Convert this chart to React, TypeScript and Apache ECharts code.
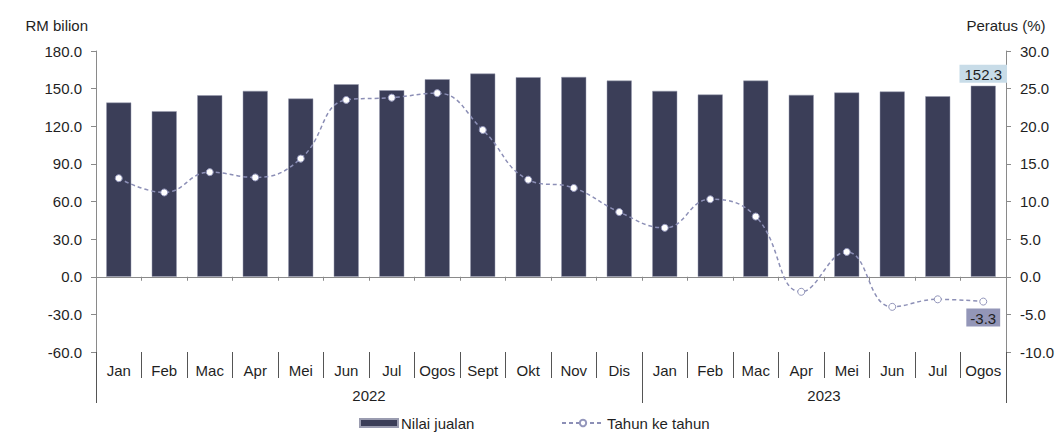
import React, { useEffect, useRef } from "react";
import * as echarts from "echarts";

const months = ["Jan", "Feb", "Mac", "Apr", "Mei", "Jun", "Jul", "Ogos", "Sept", "Okt", "Nov", "Dis",
  "Jan", "Feb", "Mac", "Apr", "Mei", "Jun", "Jul", "Ogos"];
const years = ["2022", "2023"];
const yearSpans = [12, 8];
const sales = [138.9, 132.0, 144.7, 148.2, 142.1, 153.5, 148.7, 157.5, 162.0, 159.1, 159.3, 156.4,
  148.2, 145.3, 156.4, 145.0, 146.9, 147.7, 143.9, 152.3];
const yoy = [13.1, 11.2, 13.9, 13.2, 15.7, 23.5, 23.8, 24.4, 19.5, 12.9, 11.8, 8.6,
  6.5, 10.3, 8.0, -2.0, 3.3, -4.0, -3.0, -3.3];
const leftTicks = { min: -60, max: 180, interval: 30 };
const rightTicks = { min: -10, max: 30, interval: 5 };

const FONT = "'Liberation Sans', Arial, sans-serif";
const FS = 15;
const TXT = "#1f1f1f";
const AXIS = "#8a8a8a";
const BAR = "#3b3e58";
const LINE = "#8c8fb6";

export default function App() {
  const ref = useRef<HTMLDivElement>(null);
  useEffect(() => {
    document.body.style.margin = "0";
    const chart = echarts.init(ref.current!, null, { renderer: "svg" });
    const last = months.length - 1;
    const bounds: number[] = [0];
    const centers: number[] = [];
    yearSpans.forEach((s) => {
      const start = bounds[bounds.length - 1];
      centers.push(start + s / 2);
      bounds.push(start + s);
    });
    const total = bounds[bounds.length - 1];

    chart.setOption({
      animation: false,
      textStyle: { fontFamily: FONT, color: TXT },
      grid: { left: 96, right: 58, top: 51, bottom: 81 },
      legend: [
        {
          data: [{ name: "Nilai jualan", icon: "rect" }],
          left: 354, top: 410, itemWidth: 38, itemHeight: 8, itemGap: 4,
          textStyle: { fontFamily: FONT, fontSize: FS, color: TXT, padding: [0, 0, 0, -2], lineHeight: 16 },
        },
        {
          data: ["Tahun ke tahun"],
          left: 556, top: 410, itemWidth: 42, itemHeight: 8,
          textStyle: { fontFamily: FONT, fontSize: FS, color: TXT, padding: [0, 0, 0, -2], lineHeight: 16 },
        },
      ],
      xAxis: [
        {
          type: "category",
          data: months,
          axisLine: { onZero: true, lineStyle: { color: AXIS, width: 1 } },
          axisTick: { show: true, interval: 0, length: 4, lineStyle: { color: AXIS } },
          axisLabel: { show: false },
          splitLine: { show: false },
        },
        {
          type: "category",
          data: months,
          position: "bottom",
          axisLine: { show: false, onZero: false },
          axisTick: { show: true, interval: 0, length: 26, lineStyle: { color: "#555" } },
          axisLabel: { interval: 0, margin: 11, fontSize: FS, color: TXT, fontFamily: FONT },
          splitLine: { show: false },
        },
        {
          type: "value",
          min: 0,
          max: total,
          position: "bottom",
          axisLine: { show: false, onZero: false },
          axisTick: { show: true, customValues: bounds, length: 51, lineStyle: { color: "#555" } },
          axisLabel: {
            customValues: centers,
            margin: 36,
            fontSize: FS,
            color: TXT,
            fontFamily: FONT,
            formatter: (v: number) => years[centers.indexOf(v)] ?? "",
          },
          splitLine: { show: false },
        },
      ],
      yAxis: [
        {
          type: "value",
          ...leftTicks,
          name: "RM bilion",
          nameLocation: "end",
          nameGap: 18,
          nameTextStyle: { fontFamily: FONT, fontSize: FS, color: TXT, align: "right", padding: [0, 8, 0, 0] },
          axisLine: { show: true, lineStyle: { color: AXIS } },
          axisTick: { show: true, length: 5, lineStyle: { color: AXIS } },
          axisLabel: { margin: 14, fontSize: FS, color: TXT, fontFamily: FONT, formatter: (v: number) => v.toFixed(1) },
          splitLine: { show: false },
        },
        {
          type: "value",
          ...rightTicks,
          position: "right",
          name: "Peratus (%)",
          nameLocation: "end",
          nameGap: 18,
          nameTextStyle: { fontFamily: FONT, fontSize: FS, color: TXT, align: "center" },
          axisLine: { show: true, lineStyle: { color: AXIS } },
          axisTick: { show: true, length: 5, lineStyle: { color: AXIS } },
          axisLabel: { margin: 14, fontSize: FS, color: TXT, fontFamily: FONT, formatter: (v: number) => v.toFixed(1) },
          splitLine: { show: false },
        },
      ],
      series: [
        {
          name: "Nilai jualan",
          type: "bar",
          xAxisIndex: 0,
          yAxisIndex: 0,
          barWidth: 25,
          itemStyle: { color: BAR, borderColor: "#9a9cb0", borderWidth: 0.5 },
          data: sales.map((v, i) =>
            i === last
              ? {
                  value: v,
                  label: {
                    show: true,
                    position: "top",
                    distance: 3,
                    backgroundColor: "#c8dce8",
                    padding: [2, 5, 1, 5],
                    fontSize: FS,
                    color: TXT,
                    fontFamily: FONT,
                    formatter: (p: any) => p.value.toFixed(1),
                  },
                }
              : v
          ),
        },
        {
          name: "Tahun ke tahun",
          type: "line",
          xAxisIndex: 0,
          yAxisIndex: 1,
          smooth: 0.45,
          symbol: "circle",
          symbolSize: 7,
          z: 5,
          lineStyle: { color: LINE, width: 1.5, type: [4, 3] },
          itemStyle: { color: "#ffffff", borderColor: "#9396bb", borderWidth: 1 },
          data: yoy.map((v, i) =>
            i === last
              ? {
                  value: v,
                  label: {
                    show: true,
                    position: "bottom",
                    distance: 3,
                    backgroundColor: "#9396b8",
                    padding: [2, 4, 1, 4],
                    fontSize: FS,
                    color: TXT,
                    fontFamily: FONT,
                    formatter: (p: any) => p.value.toFixed(1),
                  },
                }
              : v
          ),
        },
      ],
    });
    return () => chart.dispose();
  }, []);
  return <div ref={ref} style={{ position: "absolute", left: 0, top: 0, width: 1064, height: 433 }} />;
}
